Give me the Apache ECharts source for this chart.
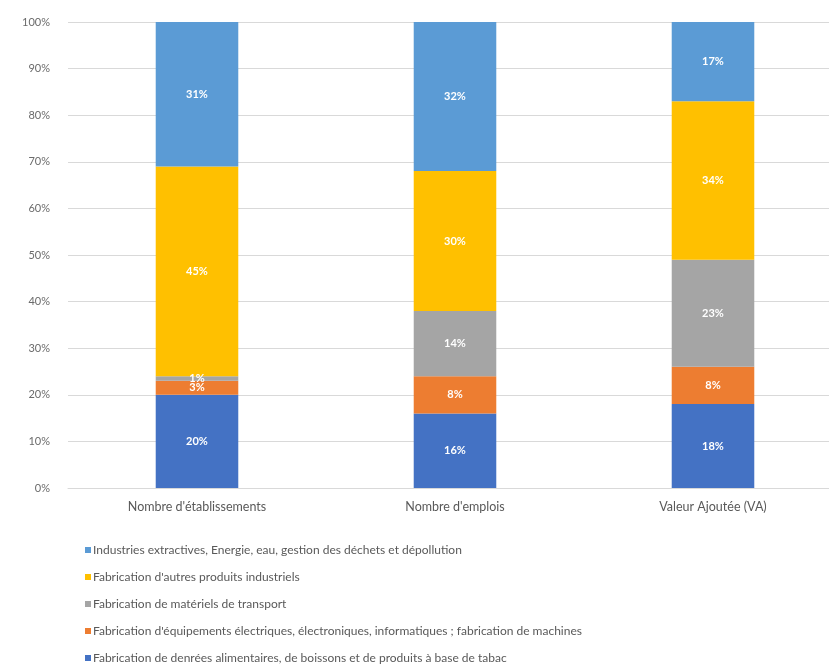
<!DOCTYPE html>
<html>
<head>
<meta charset="utf-8">
<script src="https://cdn.jsdelivr.net/npm/echarts@6/dist/echarts.min.js"></script>
<style>
  html, body { margin: 0; padding: 0; background: #fff; }
  #chart { width: 829px; height: 666px; }
</style>
</head>
<body>
<div id="chart"></div>
<script>
// Categories on the x axis
const categories = ["Nombre d'établissements", "Nombre d'emplois", "Valeur Ajoutée (VA)"];

// Sector names (stack order, bottom to top)
const sectorNames = [
  "Fabrication de denrées alimentaires, de boissons et de produits à base de tabac",
  "Fabrication d'équipements électriques, électroniques, informatiques ; fabrication de machines",
  "Fabrication de matériels de transport",
  "Fabrication d'autres produits industriels",
  "Industries extractives, Energie, eau, gestion des déchets et dépollution"
];

// Shares in percent, one array per sector
const alimentaire = [20, 16, 18];
const equipements = [3, 8, 8];
const transport = [1, 14, 23];
const autresProduits = [45, 30, 34];
const extractives = [31, 32, 17];

// Y axis tick values
const yTicks = [0, 10, 20, 30, 40, 50, 60, 70, 80, 90, 100];

const colors = ['#4472C4', '#ED7D31', '#A5A5A5', '#FFC000', '#5B9BD5'];
const seriesValues = [alimentaire, equipements, transport, autresProduits, extractives];

const fontFamily = 'Lato, "Open Sans", sans-serif';

const chart = echarts.init(document.getElementById('chart'));

chart.setOption({
  animation: false,
  textStyle: { fontFamily: fontFamily },
  // the plot area runs a little past the right edge of the canvas
  grid: { left: 68, width: 774, top: 22, bottom: 178, containLabel: false, outerBoundsMode: 'none' },
  xAxis: {
    type: 'category',
    data: categories,
    axisLine: { lineStyle: { color: '#d9d9d9', width: 1 } },
    axisTick: { show: false },
    axisLabel: { color: '#595959', fontSize: 12.5, margin: 12, fontFamily: fontFamily }
  },
  yAxis: {
    type: 'value',
    min: yTicks[0],
    max: yTicks[yTicks.length - 1],
    interval: 10,
    axisLine: { show: false },
    axisTick: { show: false },
    splitLine: { lineStyle: { color: '#d9d9d9', width: 1 } },
    axisLabel: { color: '#6b6b6b', fontSize: 11, margin: 18, formatter: '{value}%', fontFamily: fontFamily }
  },
  legend: {
    orient: 'vertical',
    left: 85,
    top: 544,
    height: 122,
    padding: 0,
    itemWidth: 6,
    itemHeight: 6,
    itemGap: 15,
    icon: 'rect',
    data: sectorNames.slice().reverse(),
    textStyle: { color: '#595959', fontSize: 12, padding: [0, 0, 0, -3], fontFamily: fontFamily }
  },
  series: sectorNames.map((name, i) => ({
    name: name,
    type: 'bar',
    stack: 'total',
    barWidth: '32%',
    data: seriesValues[i],
    itemStyle: { color: colors[i] },
    label: {
      show: true,
      position: 'inside',
      formatter: p => p.value + '%',
      color: '#ffffff',
      fontWeight: 'bold',
      fontSize: 11,
      fontFamily: fontFamily
    }
  }))
});
</script>
</body>
</html>
